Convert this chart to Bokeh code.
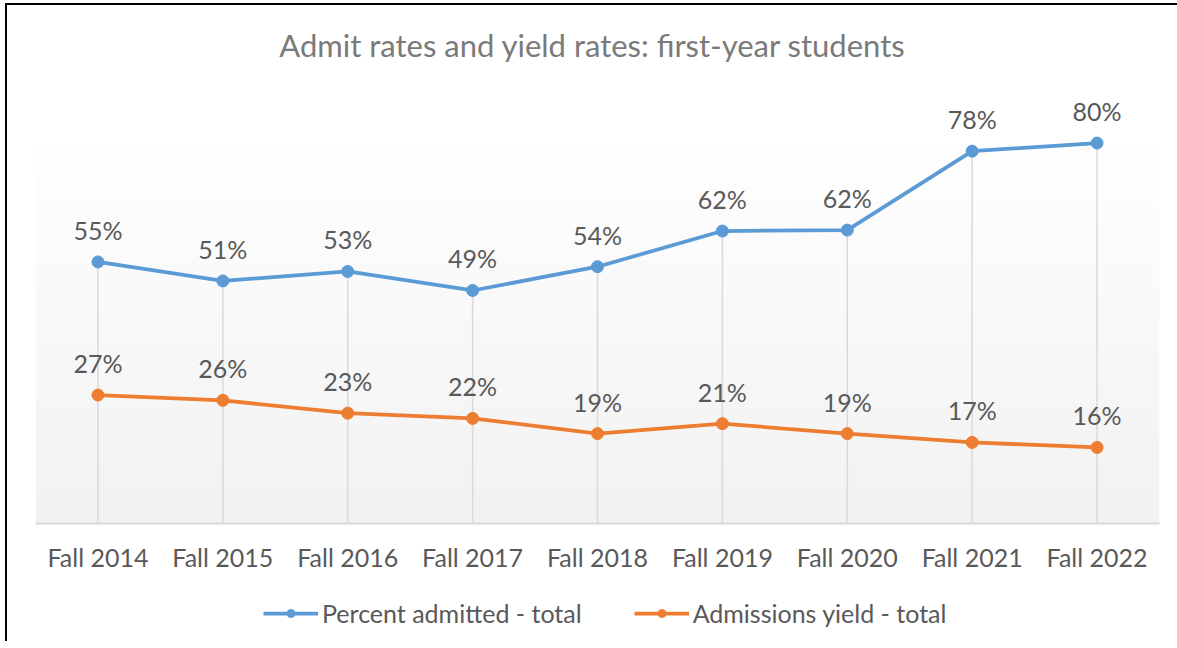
import numpy as np
from bokeh.plotting import figure
from bokeh.layouts import column
from bokeh.models import Range1d, Legend, LegendItem, ColumnDataSource, FixedTicker, Div
from bokeh.embed import file_html
from bokeh.resources import INLINE
from bokeh.core.properties import value

title_text = "Admit rates and yield rates: first-year students"
categories = ["Fall 2014", "Fall 2015", "Fall 2016", "Fall 2017", "Fall 2018",
              "Fall 2019", "Fall 2020", "Fall 2021", "Fall 2022"]
admitted = [55.0, 51.0, 53.0, 49.0, 54.0, 61.5, 61.7, 78.3, 80.0]
admitted_labels = ["55%", "51%", "53%", "49%", "54%", "62%", "62%", "78%", "80%"]
yield_rate = [27.0, 25.9, 23.2, 22.1, 18.9, 21.0, 18.9, 17.05, 16.0]
yield_labels = ["27%", "26%", "23%", "22%", "19%", "21%", "19%", "17%", "16%"]
series_names = ["Percent admitted - total", "Admissions yield - total"]

FONT = "Lato"
BLUE = "#5b9bd5"
ORANGE = "#ed7d31"

xs = list(range(len(categories)))
W = 1170

# title strip
head = Div(text=f'<div style="width:{W}px;text-align:center;font-family:Lato;'
                f'font-size:31px;line-height:36px;color:#7a7a7a;padding-top:22px;">'
                f'{title_text}</div>',
           width=W, height=80, margin=0,
           styles={"background-color": "white"})

p = figure(width=W, height=500, output_backend="svg", toolbar_location=None, title=None,
           x_range=Range1d(-0.5, len(categories) - 0.5), y_range=Range1d(0, 90),
           min_border_left=28, min_border_right=18, min_border_top=10,
           min_border_bottom=62)

p.outline_line_color = None
p.background_fill_color = "white"
p.border_fill_color = "white"
p.xgrid.grid_line_color = None
p.ygrid.grid_line_color = None
p.yaxis.visible = False

# plot-area gradient (light grey at bottom to white at top), 0..80% band
n = 200
shade = np.linspace(242, 255, n).astype(np.uint8)
img = np.zeros((n, 1), dtype=np.uint32)
view = img.view(dtype=np.uint8).reshape((n, 1, 4))
view[:, 0, 0] = shade
view[:, 0, 1] = shade
view[:, 0, 2] = shade
view[:, 0, 3] = 255
p.image_rgba(image=[img], x=-0.5, y=0, dw=len(categories), dh=80)

# drop lines
p.segment(x0=xs, y0=[0] * len(xs), x1=xs, y1=admitted,
          line_color="#d9d9d9", line_width=1.5)

src_a = ColumnDataSource(dict(x=xs, y=admitted, t=admitted_labels))
src_y = ColumnDataSource(dict(x=xs, y=yield_rate, t=yield_labels))

p.line("x", "y", source=src_a, line_color=BLUE, line_width=3.75)
p.scatter("x", "y", source=src_a, size=12, fill_color=BLUE, line_color=BLUE)
p.line("x", "y", source=src_y, line_color=ORANGE, line_width=3.75)
p.scatter("x", "y", source=src_y, size=12, fill_color=ORANGE, line_color=ORANGE)

for s in (src_a, src_y):
    p.text("x", "y", text="t", source=s, text_font=value(FONT), text_font_size="25px",
           text_color="#595959", text_align="center", text_baseline="middle", y_offset=-32)

xa = p.xaxis[0]
xa.ticker = FixedTicker(ticks=xs)
xa.major_label_overrides = {i: c for i, c in zip(xs, categories)}
xa.axis_line_color = "#d9d9d9"
xa.axis_line_width = 2
xa.major_tick_line_color = None
xa.minor_tick_line_color = None
xa.major_tick_out = 0
xa.major_tick_in = 0
xa.major_label_standoff = 18
xa.major_label_text_font = FONT
xa.major_label_text_font_size = "25px"
xa.major_label_text_color = "#595959"

# legend strip below the chart (same series, drawn out of view; only the legend shows)
q = figure(width=W, height=56, output_backend="svg", toolbar_location=None,
           x_range=Range1d(-0.5, len(categories) - 0.5), y_range=Range1d(1000, 1001),
           min_border_left=0, min_border_right=0, min_border_top=0, min_border_bottom=0)
q.axis.visible = False
q.grid.visible = False
q.outline_line_color = None
q.border_fill_color = "white"
q.background_fill_color = "white"
la = q.line("x", "y", source=src_a, line_color=BLUE, line_width=3.75)
ca = q.scatter("x", "y", source=src_a, size=12, fill_color=BLUE, line_color=BLUE)
ly = q.line("x", "y", source=src_y, line_color=ORANGE, line_width=3.75)
cy = q.scatter("x", "y", source=src_y, size=12, fill_color=ORANGE, line_color=ORANGE)

legend = Legend(items=[LegendItem(label=series_names[0], renderers=[la, ca]),
                       LegendItem(label=series_names[1], renderers=[ly, cy])],
                orientation="horizontal", location=(228, 13))
legend.label_text_font = FONT
legend.label_text_font_size = "25px"
legend.label_text_color = "#595959"
legend.glyph_width = 55
legend.glyph_height = 20
legend.label_standoff = 4
legend.spacing = 52
legend.border_line_color = None
legend.background_fill_alpha = 0
legend.margin = 0
legend.padding = 0
q.add_layout(legend, "center")

layout = column(head, p, q, spacing=0)
layout.styles = {"margin-left": "5px", "margin-top": "3px",
                 "border-left": "2px solid black", "border-top": "2px solid black"}

open("out.html", "w").write(file_html(layout, INLINE))
